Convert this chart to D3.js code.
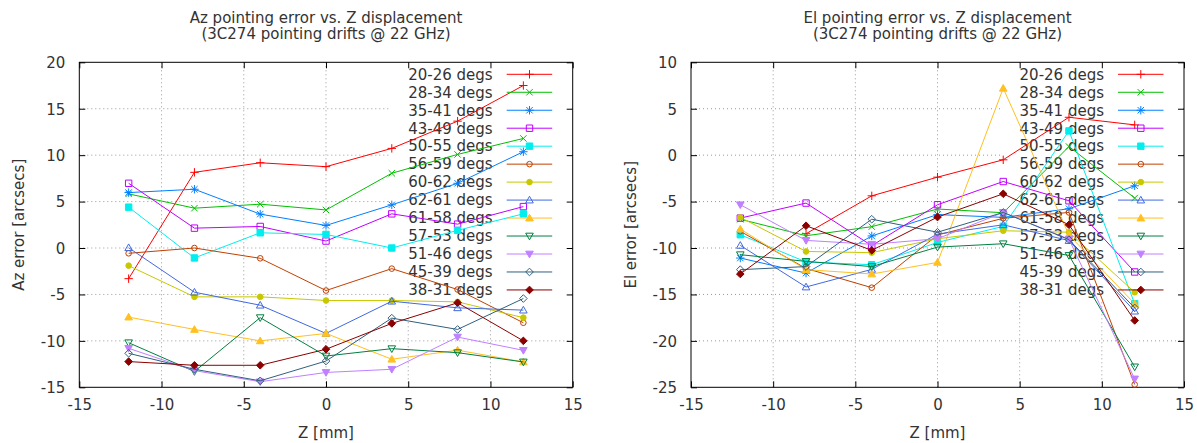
<!DOCTYPE html>
<html>
<head>
<meta charset="utf-8">
<script src="https://cdn.jsdelivr.net/npm/d3@7"></script>
<style>
  body { margin: 0; background: #fff; }
  svg { display: block; font-family: "DejaVu Sans", sans-serif; }
</style>
</head>
<body>
<svg id="chart" width="1197" height="443"></svg>
<script>
// Z displacement of every measurement [mm]
const zPositions = [-12, -8, -4, 0, 4, 8, 12];

// elevation ranges, one per series
const seriesLabels = [
  "20-26 degs", "28-34 degs", "35-41 degs", "43-49 degs", "50-55 degs",
  "56-59 degs", "60-62 degs", "62-61 degs", "61-58 degs", "57-53 degs",
  "51-46 degs", "45-39 degs", "38-31 degs"
];

// gnuplot default line colours
const seriesColors = [
  "#ff0000", "#00c000", "#0080ff", "#c000ff", "#00eeee",
  "#c04000", "#c8c800", "#4169e1", "#ffc020", "#008040",
  "#c080ff", "#306080", "#8b0000"
];

// gnuplot point types 1..13
const seriesSymbols = [1, 2, 3, 4, 5, 6, 7, 8, 9, 10, 11, 12, 13];

// Az pointing error [arcsecs], one row per series
const azErrors = [
  [-3.3, 8.15, 9.18, 8.76, 10.73, 13.66, 17.5],
  [5.83, 4.29, 4.72, 4.1, 8.05, 10.08, 11.8],
  [5.97, 6.33, 3.65, 2.43, 4.65, 6.97, 10.37],
  [6.97, 2.14, 2.32, 0.75, 3.68, 2.57, 4.46],
  [4.4, -1.07, 1.64, 1.46, 0.0, 1.9, 3.68],
  [-0.57, 0.0, -1.11, -4.58, -2.22, -4.47, -8.05],
  [-1.9, -5.26, -5.26, -5.65, -5.65, -5.8, -7.5],
  [0.03, -4.76, -6.16, -9.2, -5.73, -6.44, -6.69],
  [-7.44, -8.77, -10.0, -9.2, -11.98, -11.0, -12.27],
  [-10.2, -13.3, -7.5, -11.63, -10.84, -11.27, -12.27],
  [-10.8, -13.2, -14.4, -13.4, -13.06, -9.59, -11.02],
  [-11.34, -13.06, -14.3, -12.17, -7.55, -8.77, -5.44],
  [-12.23, -12.63, -12.63, -10.9, -8.12, -5.9, -10.0]
];

// El pointing error [arcsecs], one row per series (null = no point)
const elErrors = [
  [null, -8.46, -4.38, -2.37, -0.5, 4.08, 3.26],
  [-6.9, -8.68, -7.7, -5.8, -6.2, 0.93, -4.62],
  [-11.08, -12.7, -8.7, -6.4, -6.7, -5.77, -3.3],
  [-6.78, -5.16, -9.75, -5.34, -2.84, -4.91, -12.58],
  [-8.57, -11.5, -11.8, -9.4, -7.67, 2.61, -16.0],
  [-8.2, -12.2, -14.27, -8.6, -6.8, -6.17, -24.7],
  [-6.7, -10.37, -10.5, -9.0, -8.14, -8.3, -14.77],
  [-9.72, -14.2, -12.3, -8.5, -7.5, -9.2, -16.8],
  [-7.96, -12.33, -12.8, -11.55, 7.2, -8.6, -16.0],
  [-10.72, -11.44, -12.0, -9.9, -9.54, -10.8, -22.8],
  [-5.34, -9.18, -9.6, -9.0, -6.17, -9.04, -24.1],
  [-12.33, -12.0, -6.9, -8.3, -6.17, -9.1, -16.45],
  [-12.8, -7.6, -10.25, -6.67, -4.16, -7.5, -17.8]
];

const xTicks = [-15, -10, -5, 0, 5, 10, 15];
const azTicks = [-15, -10, -5, 0, 5, 10, 15, 20];
const elTicks = [-25, -20, -15, -10, -5, 0, 5, 10];

const svg = d3.select("#chart");
const fontSize = 15;
const textColor = "#333";
// plain hyphen for negatives, like the original plot
const tickText = d => String(d);

// marker path for a gnuplot point type, centred on 0,0
function symbolPath(type) {
  const s = 3.2;
  const t = 3.8;
  switch (type) {
    case 1: return `M${-s - 1},0H${s + 1}M0,${-s - 1}V${s + 1}`;
    case 2: return `M${-s},${-s}L${s},${s}M${-s},${s}L${s},${-s}`;
    case 3: return `M${-s - 1},0H${s + 1}M0,${-s - 1}V${s + 1}M${-s},${-s}L${s},${s}M${-s},${s}L${s},${-s}`;
    case 4: case 5: return `M${-s},${-s}H${s}V${s}H${-s}Z`;
    case 6: case 7: return d3.arc()({innerRadius: 0, outerRadius: 2.8, startAngle: 0, endAngle: 2 * Math.PI});
    case 8: case 9: return `M0,${-t}L${t},${t * 0.75}L${-t},${t * 0.75}Z`;
    case 10: case 11: return `M0,${t}L${t},${-t * 0.75}L${-t},${-t * 0.75}Z`;
    case 12: case 13: return `M0,${-t}L${t},0L0,${t}L${-t},0Z`;
  }
}

function isFilled(type) {
  return [5, 7, 9, 11, 13].includes(type);
}

function drawPanel(opts) {
  const top = 62.3, bottom = 387.3;
  const x = d3.scaleLinear().domain([-15, 15]).range([opts.left, opts.right]);
  const y = d3.scaleLinear().domain(opts.yDomain).range([bottom, top]);
  const g = svg.append("g");

  // title
  const title = g.append("text")
    .attr("x", (opts.left + opts.right) / 2)
    .attr("text-anchor", "middle")
    .attr("font-size", fontSize)
    .attr("fill", textColor);
  opts.title.forEach((line, i) => {
    title.append("tspan")
      .attr("x", (opts.left + opts.right) / 2)
      .attr("y", 22.5 + i * 16)
      .text(line);
  });

  // grid
  g.append("g").selectAll("line")
    .data(xTicks.slice(1, -1))
    .join("line")
    .attr("x1", d => x(d)).attr("x2", d => x(d))
    .attr("y1", top).attr("y2", bottom)
    .attr("stroke", "#999").attr("stroke-dasharray", "1,3");
  g.append("g").selectAll("line")
    .data(opts.yTicks.slice(1, -1))
    .join("line")
    .attr("y1", d => y(d)).attr("y2", d => y(d))
    .attr("x1", opts.left).attr("x2", opts.right)
    .attr("stroke", "#999").attr("stroke-dasharray", "1,3");

  // the key blanks out the grid behind it
  const keyRowY = i => 74.3 + i * 17.97;
  g.append("rect")
    .attr("x", opts.right - 183)
    .attr("y", top + 1)
    .attr("width", 182)
    .attr("height", keyRowY(12) + 9 - top)
    .attr("fill", "#fff");

  // axes with inward ticks, mirrored on top/right
  const axisStyle = sel => {
    sel.select(".domain").remove();
    sel.selectAll("line").attr("stroke", "#000");
    sel.selectAll("text").attr("font-size", fontSize).attr("fill", textColor)
      .attr("font-family", "DejaVu Sans");
  };
  g.append("g")
    .attr("transform", `translate(0,${bottom})`)
    .call(d3.axisBottom(x).tickValues(xTicks).tickSize(-6).tickPadding(12).tickFormat(tickText))
    .call(axisStyle);
  g.append("g")
    .attr("transform", `translate(0,${top})`)
    .call(d3.axisTop(x).tickValues(xTicks).tickSize(-6).tickFormat(""))
    .call(axisStyle);
  g.append("g")
    .attr("transform", `translate(${opts.left},0)`)
    .call(d3.axisLeft(y).tickValues(opts.yTicks).tickSize(-6).tickPadding(14).tickFormat(tickText))
    .call(axisStyle)
    .call(a => a.selectAll("text").attr("dy", "0.36em"));
  g.append("g")
    .attr("transform", `translate(${opts.right},0)`)
    .call(d3.axisRight(y).tickValues(opts.yTicks).tickSize(-6).tickFormat(""))
    .call(axisStyle);

  g.append("rect")
    .attr("x", opts.left).attr("y", top)
    .attr("width", opts.right - opts.left).attr("height", bottom - top)
    .attr("fill", "none").attr("stroke", "#000");

  // axis labels
  g.append("text")
    .attr("x", (opts.left + opts.right) / 2)
    .attr("y", 438)
    .attr("text-anchor", "middle")
    .attr("font-size", fontSize)
    .attr("fill", textColor)
    .text("Z [mm]");
  g.append("text")
    .attr("transform", `translate(${opts.left - 55},${(top + bottom) / 2}) rotate(-90)`)
    .attr("text-anchor", "middle")
    .attr("font-size", fontSize)
    .attr("fill", textColor)
    .text(opts.yLabel);

  // key text
  g.append("g").selectAll("text")
    .data(seriesLabels)
    .join("text")
    .attr("x", opts.right - 80)
    .attr("y", (d, i) => keyRowY(i) + 5.3)
    .attr("text-anchor", "end")
    .attr("font-size", fontSize)
    .attr("fill", textColor)
    .text(d => d);

  // series
  const line = d3.line()
    .defined(d => d.v !== null)
    .x(d => x(d.z))
    .y(d => y(d.v));

  opts.data.forEach((vals, i) => {
    const color = seriesColors[i];
    const sym = seriesSymbols[i];
    const pts = vals.map((v, j) => ({z: zPositions[j], v}));
    const sg = g.append("g");
    sg.append("path")
      .datum(pts)
      .attr("d", line)
      .attr("fill", "none")
      .attr("stroke", color)
      .attr("stroke-width", 1);
    sg.selectAll("path.pt")
      .data(pts.filter(d => d.v !== null))
      .join("path")
      .attr("class", "pt")
      .attr("transform", d => `translate(${x(d.z)},${y(d.v)})`)
      .attr("d", symbolPath(sym))
      .attr("fill", isFilled(sym) ? color : "none")
      .attr("stroke", color)
      .attr("stroke-width", 1);

    // key sample
    sg.append("line")
      .attr("x1", opts.right - 66).attr("x2", opts.right - 20.5)
      .attr("y1", keyRowY(i)).attr("y2", keyRowY(i))
      .attr("stroke", color);
    sg.append("path")
      .attr("transform", `translate(${opts.right - 43.2},${keyRowY(i)})`)
      .attr("d", symbolPath(sym))
      .attr("fill", isFilled(sym) ? color : "none")
      .attr("stroke", color);
  });
}

drawPanel({
  left: 79.3, right: 572.7,
  yDomain: [-15, 20], yTicks: azTicks,
  title: ["Az pointing error vs. Z displacement", "(3C274 pointing drifts @ 22 GHz)"],
  yLabel: "Az error [arcsecs]",
  data: azErrors
});

drawPanel({
  left: 691, right: 1184,
  yDomain: [-25, 10], yTicks: elTicks,
  title: ["El pointing error vs. Z displacement", "(3C274 pointing drifts @ 22 GHz)"],
  yLabel: "El error [arcsecs]",
  data: elErrors
});
</script>
</body>
</html>
